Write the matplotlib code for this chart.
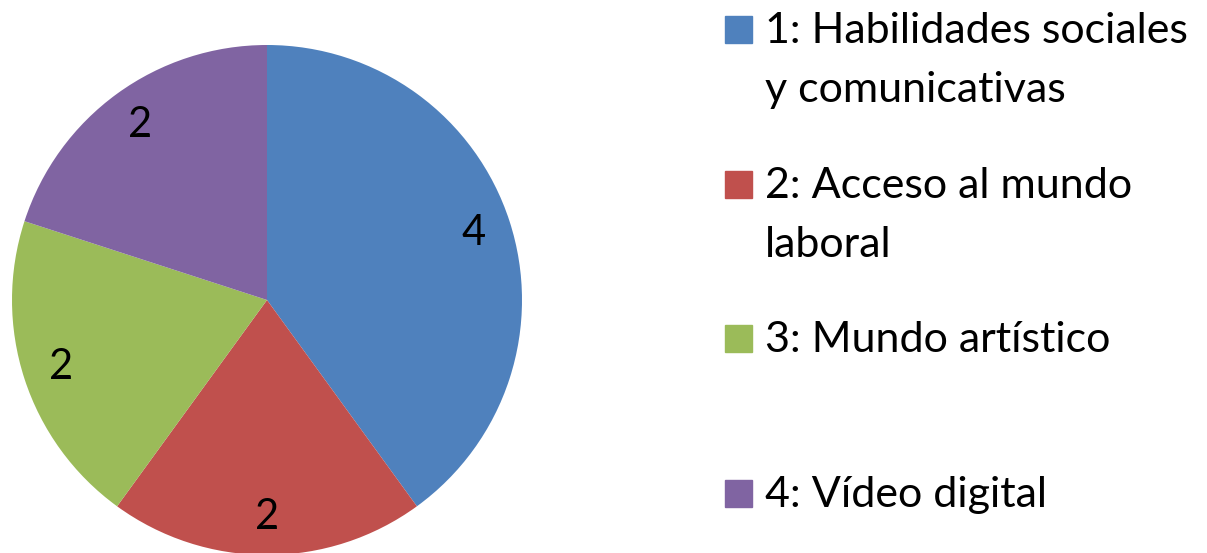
import matplotlib.pyplot as plt
from matplotlib.patches import Rectangle

plt.rcParams['font.family'] = ['Lato', 'DejaVu Sans']

categories = ['1: Habilidades sociales\ny comunicativas', '2: Acceso al mundo\nlaboral',
              '3: Mundo artístico', '4: Vídeo digital']
values = [4, 2, 2, 2]
colors = ['#4f81bd', '#c0504d', '#9bbb59', '#8064a2']

W, H = 1207, 553
fig = plt.figure(figsize=(W / 100, H / 100), dpi=100)

# pie axes: centre (267, 300) px from top-left, radius 255 px
cx, cy, r = 267, 300, 255
ax = fig.add_axes([(cx - r) / W, (H - cy - r) / H, 2 * r / W, 2 * r / H])
wedges, texts = ax.pie(values, colors=colors, startangle=90, counterclock=False,
                       labels=[str(v) for v in values], labeldistance=0.85,
                       textprops={'fontsize': 30, 'color': 'black'},
                       wedgeprops={'linewidth': 0})
for t in texts:
    t.set_horizontalalignment('center')
    t.set_verticalalignment('center')
ax.set_aspect('equal')
ax.set_xlim(-1, 1)
ax.set_ylim(-1, 1)
ax.axis('off')

# legend drawn by hand to match the uneven spacing (baseline of first line, px from top)
legend_base = [43, 198, 352, 507]
line_gap = 59
for lab, col, yb in zip(categories, colors, legend_base):
    fig.patches.append(Rectangle((725 / W, (H - yb) / H), 27 / W, 27 / H,
                                 transform=fig.transFigure, color=col))
    for i, line in enumerate(lab.split('\n')):
        fig.text(765 / W, (H - yb - i * line_gap) / H, line, fontsize=31,
                 va='baseline', ha='left')

fig.savefig('out.png', dpi=100)
